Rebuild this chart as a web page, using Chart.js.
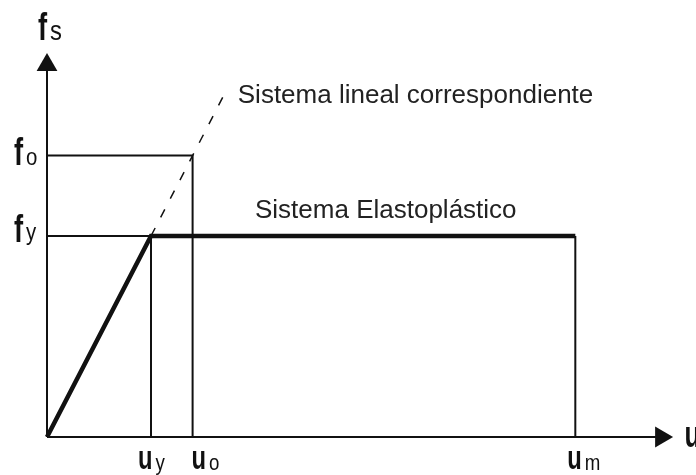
<!DOCTYPE html>
<html>
<head>
<meta charset="utf-8">
<script src="https://cdn.jsdelivr.net/npm/chart.js@4"></script>
<style>
  html, body { margin: 0; padding: 0; background: #fff; }
  #wrap { width: 696px; height: 475px; position: relative; }
</style>
</head>
<body>
<div id="wrap"><canvas id="c"></canvas></div>
<script>
// Elastoplastic vs. corresponding linear system, force-displacement sketch.
// Units: u_y = 1, f_y = 1.

const uy = 1.0, uo = 1.4, um = 5.08;
const fy = 1.0, fo = 1.4;
const linearEnd = 1.69;                 // where the dashed line stops
const xAxisEnd = 5.88, yAxisEnd = 1.83; // axis lines (arrow heads sit beyond)

const elastoplastic = [{ x: 0, y: 0 }, { x: uy, y: fy }, { x: um, y: fy }];
const linear = [{ x: uy, y: fy }, { x: linearEnd, y: linearEnd }];
const guideFo = [{ x: 0, y: fo }, { x: uo, y: fo }, { x: uo, y: 0 }];
const guideFy = [{ x: 0, y: fy }, { x: uy, y: fy }, { x: uy, y: 0 }];
const guideUm = [{ x: um, y: fy }, { x: um, y: 0 }];
const axisX = [{ x: 0, y: 0 }, { x: xAxisEnd, y: 0 }];
const axisY = [{ x: 0, y: 0 }, { x: 0, y: yAxisEnd }];
const arrowHeads = [{ x: 5.905, y: 0 }, { x: 0, y: 1.851 }];

// tick-like labels: [main, subscript, value]
const uTicks = [['u', 'y', uy], ['u', 'o', uo], ['u', 'm', um]];
const fTicks = [['f', 'o', fo], ['f', 'y', fy]];
const lineLabels = ['Sistema lineal correspondiente', 'Sistema Elastoplástico'];

const INK = '#111';
const FONT = '"Liberation Sans", Arial, sans-serif';

function line(data, width, dash) {
  return {
    type: 'line', data, borderColor: INK, borderWidth: width,
    borderDash: dash || [], pointRadius: 0, fill: false, tension: 0,
    borderCapStyle: 'butt', borderJoinStyle: 'miter', clip: false,
  };
}

// main letter (bold, narrowed) followed by a smaller regular subscript
function drawSub(ctx, main, sub, x, base, mainSize, subSize, subDrop) {
  ctx.save();
  ctx.translate(x, base);
  ctx.scale(0.72, 1);
  ctx.font = 'bold ' + mainSize + 'px ' + FONT;
  ctx.fillText(main, 0, 0);
  const w = ctx.measureText(main).width;
  ctx.restore();
  if (!sub) return;
  ctx.save();
  ctx.translate(x + w * 0.72 + 3, base + (subDrop || 0));
  ctx.scale(0.85, 1);
  ctx.font = subSize + 'px ' + FONT;
  ctx.fillText(sub, 0, 0);
  ctx.restore();
}

const labelsPlugin = {
  id: 'labels',
  afterDatasetsDraw(chart) {
    const { ctx, scales: { x, y } } = chart;
    ctx.save();
    ctx.fillStyle = INK;
    ctx.textBaseline = 'alphabetic';
    ctx.textAlign = 'left';
    const x0 = x.getPixelForValue(0), y0 = y.getPixelForValue(0);
    // axis titles
    drawSub(ctx, 'f', 's', x0 - 9, 40, 38, 28, 0);
    drawSub(ctx, 'u', '', x.getPixelForValue(xAxisEnd) + 26, y0 + 10, 36, 0, 0);
    // ticks along u
    const uOff = { y: -13, o: -1, m: -8 };
    for (const [m, s, v] of uTicks) drawSub(ctx, m, s, x.getPixelForValue(v) + uOff[s], y0 + 32, 33, 22, 1);
    // ticks along f
    const fOff = { o: 9, y: 6 };
    for (const [m, s, v] of fTicks) drawSub(ctx, m, s, x0 - 33, y.getPixelForValue(v) + fOff[s], 38, 24, s === 'y' ? -2 : 0);
    // curve labels
    ctx.font = '26px ' + FONT;
    ctx.fillStyle = '#222';
    ctx.fillText(lineLabels[0], x.getPixelForValue(linearEnd) + 15, y.getPixelForValue(linearEnd) + 6);
    ctx.fillText(lineLabels[1], 255, y.getPixelForValue(fy) - 18);
    ctx.restore();
  },
};

new Chart(document.getElementById('c'), {
  type: 'scatter',
  data: {
    datasets: [
      line(axisX, 2),
      line(axisY, 2),
      line(guideFo, 2),
      line(guideFy, 2),
      line(guideUm, 2),
      line(linear, 1.5, [9, 12]),
      line(elastoplastic, 4.5),
      {
        type: 'scatter', data: arrowHeads, pointStyle: 'triangle',
        rotation: [90, 0], pointRadius: 12, pointHoverRadius: 12,
        backgroundColor: INK, borderColor: INK, borderWidth: 0, clip: false,
      },
    ],
  },
  options: {
    responsive: true,
    maintainAspectRatio: false,
    animation: false,
    events: [],
    layout: { padding: { left: 47, right: 25, top: 35, bottom: 38 } },
    plugins: { legend: { display: false }, tooltip: { enabled: false } },
    scales: {
      x: { type: 'linear', min: 0, max: 6, display: false },
      y: { type: 'linear', min: 0, max: 2, display: false },
    },
  },
  plugins: [labelsPlugin],
});
</script>
</body>
</html>
